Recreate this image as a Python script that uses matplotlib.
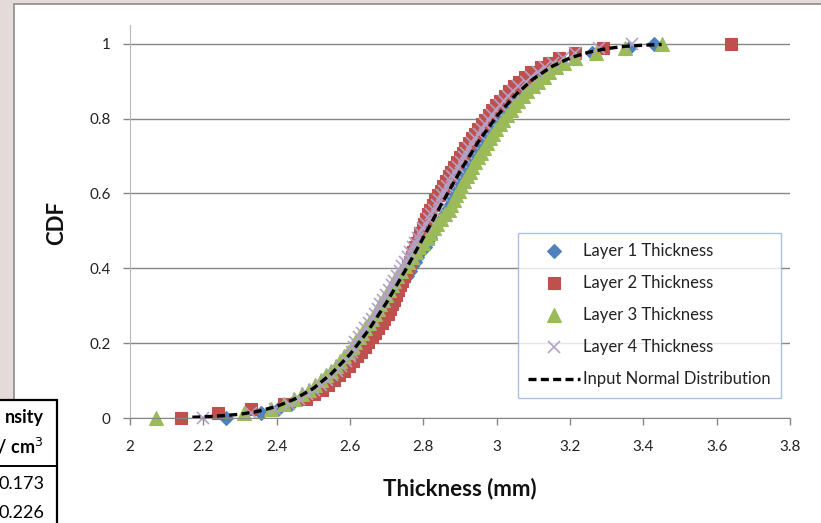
import matplotlib
matplotlib.use("Agg")
import matplotlib.pyplot as plt
import numpy as np
from matplotlib.patches import Rectangle
from matplotlib.lines import Line2D

plt.rcParams['font.family'] = ['Lato', 'DejaVu Sans']

# sorted thickness samples (mm), one list per layer
layer1 = [2.262, 2.357, 2.405, 2.439, 2.466, 2.488, 2.508, 2.525, 2.541, 2.555,
          2.569, 2.581, 2.593, 2.604, 2.615, 2.625, 2.635, 2.644, 2.654, 2.662,
          2.671, 2.679, 2.688, 2.696, 2.706, 2.714, 2.722, 2.730, 2.737, 2.744,
          2.756, 2.763, 2.770, 2.777, 2.784, 2.791, 2.804, 2.811, 2.818, 2.824,
          2.832, 2.838, 2.851, 2.858, 2.865, 2.872, 2.879, 2.886, 2.893, 2.900,
          2.902, 2.909, 2.916, 2.924, 2.932, 2.940, 2.941, 2.949, 2.958, 2.966,
          2.975, 2.983, 2.993, 3.002, 3.008, 3.018, 3.028, 3.039, 3.052, 3.064,
          3.078, 3.092, 3.110, 3.127, 3.147, 3.169, 3.210, 3.260, 3.360, 3.430]
layer2 = [2.140, 2.240, 2.330, 2.420, 2.481, 2.503, 2.523, 2.540, 2.556, 2.570,
          2.584, 2.596, 2.608, 2.619, 2.630, 2.640, 2.650, 2.659, 2.669, 2.677,
          2.686, 2.694, 2.703, 2.709, 2.714, 2.720, 2.726, 2.732, 2.737, 2.742,
          2.748, 2.753, 2.758, 2.763, 2.768, 2.773, 2.778, 2.783, 2.788, 2.792,
          2.798, 2.802, 2.807, 2.812, 2.819, 2.826, 2.833, 2.840, 2.847, 2.854,
          2.862, 2.869, 2.876, 2.884, 2.892, 2.900, 2.907, 2.915, 2.924, 2.932,
          2.941, 2.949, 2.959, 2.968, 2.978, 2.988, 2.998, 3.009, 3.022, 3.034,
          3.048, 3.062, 3.078, 3.095, 3.122, 3.144, 3.171, 3.215, 3.290, 3.640]
layer3 = [2.070, 2.310, 2.385, 2.419, 2.446, 2.468, 2.488, 2.505, 2.521, 2.535,
          2.549, 2.561, 2.573, 2.584, 2.595, 2.605, 2.615, 2.624, 2.634, 2.642,
          2.651, 2.659, 2.668, 2.676, 2.683, 2.691, 2.699, 2.707, 2.714, 2.721,
          2.729, 2.739, 2.749, 2.759, 2.769, 2.779, 2.789, 2.799, 2.809, 2.818,
          2.829, 2.838, 2.848, 2.858, 2.869, 2.876, 2.883, 2.890, 2.897, 2.904,
          2.912, 2.919, 2.926, 2.934, 2.942, 2.950, 2.957, 2.965, 2.974, 2.982,
          2.991, 2.999, 3.009, 3.018, 3.028, 3.038, 3.048, 3.059, 3.072, 3.084,
          3.098, 3.112, 3.128, 3.142, 3.162, 3.184, 3.215, 3.270, 3.350, 3.450]
layer4 = [2.200, 2.330, 2.395, 2.434, 2.461, 2.483, 2.503, 2.520, 2.536, 2.550,
          2.564, 2.576, 2.588, 2.599, 2.605, 2.610, 2.615, 2.624, 2.634, 2.642,
          2.651, 2.659, 2.668, 2.676, 2.683, 2.691, 2.699, 2.707, 2.714, 2.721,
          2.729, 2.736, 2.743, 2.750, 2.757, 2.764, 2.771, 2.778, 2.785, 2.791,
          2.799, 2.808, 2.815, 2.822, 2.829, 2.836, 2.843, 2.850, 2.857, 2.864,
          2.872, 2.879, 2.886, 2.894, 2.902, 2.910, 2.917, 2.925, 2.934, 2.942,
          2.951, 2.959, 2.969, 2.978, 2.988, 2.998, 3.008, 3.019, 3.032, 3.044,
          3.058, 3.079, 3.095, 3.112, 3.132, 3.154, 3.181, 3.215, 3.280, 3.370]

# input normal distribution curve
norm_x = [2.17, 2.20, 2.25, 2.30, 2.35, 2.40, 2.45, 2.50, 2.55, 2.60, 2.65, 2.70,
          2.75, 2.80, 2.85, 2.90, 2.95, 3.00, 3.05, 3.10, 3.15, 3.20, 3.25, 3.30,
          3.35, 3.40, 3.45]
norm_cdf = [0.002, 0.003, 0.006, 0.010, 0.018, 0.031, 0.051, 0.079, 0.119, 0.170,
            0.234, 0.309, 0.393, 0.482, 0.572, 0.659, 0.738, 0.806, 0.862, 0.906,
            0.939, 0.962, 0.977, 0.987, 0.993, 0.996, 0.998]

table_head = ["nsity", "g / cm$^3$"]
table_vals = ["0.173", "0.226"]

W, H = 821, 523
fig = plt.figure(figsize=(W / 100, H / 100), dpi=100, facecolor='#e4dada')

# white chart area with a grey border
fig.patches.append(Rectangle((14 / W, -0.1), 1.1, 1 - 4 / H + 0.1,
                             transform=fig.transFigure, facecolor='white',
                             edgecolor='#8c8c8c', linewidth=1.2, zorder=-1))

ax = fig.add_axes([130 / W, 105 / H, 660 / W, 393 / H])
ax.set_zorder(1)
ax.patch.set_alpha(0)
ax.set_xlim(2, 3.8)
ax.set_ylim(0, 1.05)
ax.set_xticks(np.arange(2, 3.81, 0.2))
ax.set_xticklabels(['2', '2.2', '2.4', '2.6', '2.8', '3', '3.2', '3.4', '3.6', '3.8'])
ax.set_yticks([0, 0.2, 0.4, 0.6, 0.8, 1.0])
ax.set_yticklabels(['0', '0.2', '0.4', '0.6', '0.8', '1'])
ax.grid(axis='y', color='#868686', linewidth=1.0)
ax.set_axisbelow(True)
for s in ['top', 'right']:
    ax.spines[s].set_visible(False)
ax.spines['left'].set_color('#b8b8b8')
ax.spines['bottom'].set_color('#868686')
ax.tick_params(axis='both', direction='out', length=5, width=1,
               colors='#868686', labelcolor='#222222', labelsize=11)
ax.tick_params(axis='y', pad=9)
ax.tick_params(axis='x', pad=11)

series = [
    (layer1, 'D', '#4f81bd', 7, 'Layer 1 Thickness'),
    (layer2, 's', '#c0504d', 8.5, 'Layer 2 Thickness'),
    (layer3, '^', '#9bbb59', 9.5, 'Layer 3 Thickness'),
    (layer4, 'x', '#b3a2c7', 8.5, 'Layer 4 Thickness'),
]
handles = []
for vals, mk, col, ms, lab in series:
    n = len(vals)
    cdf = np.arange(n) / (n - 1)
    mew = 1.2 if mk == 'x' else 0.8
    ax.plot(vals, cdf, linestyle='none', marker=mk, markersize=ms, color=col,
            markeredgewidth=mew, clip_on=False)
    handles.append(Line2D([], [], linestyle='none', marker=mk, markersize=ms,
                          color=col, markeredgewidth=mew, label=lab))

ax.plot(norm_x, norm_cdf, color='black', linewidth=2.4,
        linestyle=(0, (2.4, 1.3)))
handles.append(Line2D([], [], color='black', linewidth=2.4,
                      linestyle=(0, (2.4, 1.3)), label='Input Normal Distribution'))

leg = fig.legend(handles=handles, loc='upper left',
                 bbox_to_anchor=(518 / W, 1 - 233 / H), fontsize=12,
                 frameon=True, fancybox=False, handlelength=3.1,
                 handletextpad=0.2, labelspacing=0.96, borderpad=0.62,
                 borderaxespad=0)
leg.set_zorder(5)
leg.get_frame().set_edgecolor('#95b3d7')
leg.get_frame().set_linewidth(1.0)
for t in leg.get_texts():
    t.set_color('#222222')

fig.text(460 / W, 1 - 489 / H, 'Thickness (mm)', ha='center', va='center',
         fontsize=16, fontweight='bold', color='#111111')
fig.text(57 / W, 1 - 223 / H, 'CDF', ha='center', va='center', rotation=90,
         fontsize=16, fontweight='bold', color='#111111')

# piece of a table sitting over the bottom-left corner
fig.patches.append(Rectangle((-0.05, -0.1), 0.05 + 57 / W, 0.1 + 1 - 400 / H,
                             transform=fig.transFigure, facecolor='white',
                             edgecolor='black', linewidth=1.6, zorder=5))
fig.add_artist(Line2D([0, 57 / W], [1 - 466 / H, 1 - 466 / H],
                      transform=fig.transFigure, color='black', linewidth=1.4,
                      zorder=6))
for txt, y in zip(table_head, [418, 447]):
    fig.text(44 / W, 1 - y / H, txt, ha='right', va='center', fontsize=13,
             fontweight='bold', color='black', zorder=7)
for txt, y in zip(table_vals, [484, 513]):
    fig.text(44 / W, 1 - y / H, txt, ha='right', va='center', fontsize=13,
             color='black', zorder=7)

fig.savefig('out.png', dpi=100, facecolor=fig.get_facecolor())
